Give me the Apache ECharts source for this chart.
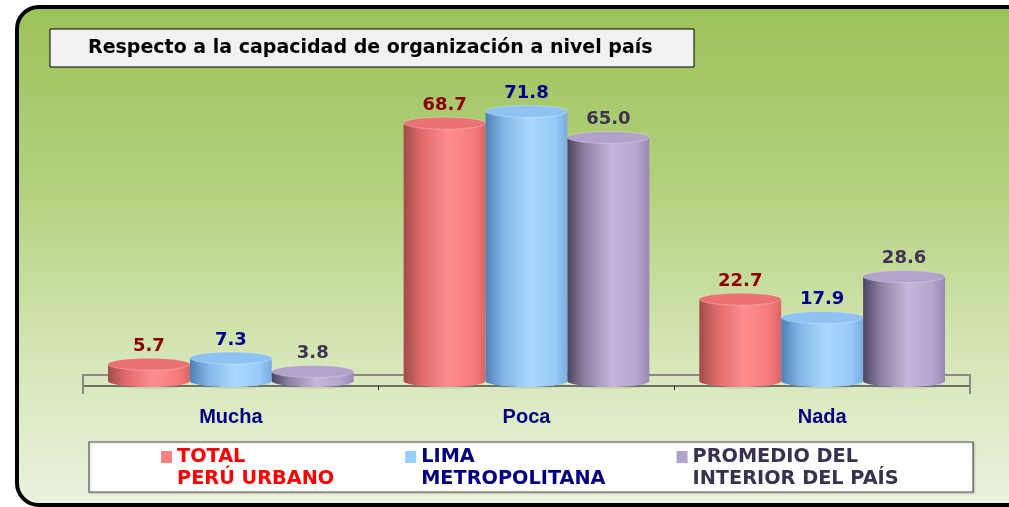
<!DOCTYPE html>
<html>
<head>
<meta charset="utf-8">
<script src="https://cdn.jsdelivr.net/npm/echarts@6/dist/echarts.min.js"></script>
<style>
  html, body { margin: 0; padding: 0; background: #fff; }
  #chart { width: 1009px; height: 507px; }
</style>
</head>
<body>
<div id="chart"></div>
<script>
// data
const categories = ["Mucha", "Poca", "Nada"];
const seriesNames = ["TOTAL PERÚ URBANO", "LIMA METROPOLITANA", "PROMEDIO DEL INTERIOR DEL PAÍS"];
const legendLines = [["TOTAL", "PERÚ URBANO"], ["LIMA", "METROPOLITANA"], ["PROMEDIO DEL", "INTERIOR DEL PAÍS"]];
const totalPeru = [5.7, 68.7, 22.7];
const limaMetro = [7.3, 71.8, 17.9];
const interiorPais = [3.8, 65.0, 28.6];

// look
const GRID = { left: 83, right: 39, top: 80, bottom: 121 };
const BAR_FRAC = 0.277;
const RY = 6;
const WIDE = "'DejaVu Sans', Verdana, sans-serif";
const ARIAL = "'Liberation Sans', Arial, sans-serif";
const palettes = [
  { stops: ["#a24a4a", "#e06c6c", "#ff8d8d", "#f77c7c", "#d86565"], top: "#ea7272", label: "#8b0000", text: "#ff0000", mark: "#ff8080" },
  { stops: ["#4f7fb5", "#83b6e6", "#aad9ff", "#97caf7", "#79ace0"], top: "#8ec2f0", label: "#00008b", text: "#000080", mark: "#99ccff" },
  { stops: ["#4f4460", "#8f82a6", "#c6b6de", "#b5a5cd", "#9a8ab2"], top: "#b3a3cb", label: "#3f3353", text: "#3a3050", mark: "#b0a2cc" }
];

function bodyFill(p) {
  return {
    type: "linear", x: 0, y: 0, x2: 1, y2: 0,
    colorStops: [
      { offset: 0, color: p.stops[0] },
      { offset: 0.22, color: p.stops[1] },
      { offset: 0.55, color: p.stops[2] },
      { offset: 0.85, color: p.stops[3] },
      { offset: 1, color: p.stops[4] }
    ]
  };
}

function renderCylinder(params, api) {
  const p = palettes[params.seriesIndex];
  const idx = api.value(0);
  const val = api.value(1);
  const top = api.coord([idx, val]);
  const base = api.coord([idx, 0]);
  const w = api.size([1, 0])[0] * BAR_FRAC;
  const cx = top[0] + (params.seriesIndex - 1) * w;
  const x = cx - w / 2;
  const yb = base[1] - 5;
  const yt = top[1];
  return {
    type: "group",
    children: [
      { type: "ellipse", shape: { cx: cx + 3, cy: yb + 4, rx: w / 2 - 6, ry: RY - 2 },
        style: { fill: "rgba(120,120,120,0.18)" } },
      { type: "ellipse", shape: { cx: cx, cy: yb, rx: w / 2, ry: RY },
        style: { fill: bodyFill(p) } },
      { type: "rect", shape: { x: x, y: yt, width: w, height: Math.max(yb - yt, 0) },
        style: { fill: bodyFill(p) } },
      { type: "ellipse", shape: { cx: cx, cy: yt, rx: w / 2, ry: RY },
        style: { fill: p.top, stroke: "rgba(255,255,255,0.25)", lineWidth: 1 } },
      { type: "text", x: cx, y: yt - RY - 3,
        style: { text: val.toFixed(1), fill: p.label, align: "center", verticalAlign: "bottom",
                 font: "bold 18px " + WIDE } }
    ]
  };
}

const seriesData = [totalPeru, limaMetro, interiorPais];
const legendRich = { g: { width: 5 }, s: { width: 16 } };
palettes.forEach((p, i) => {
  legendRich["m" + i] = { width: 11, height: 12, backgroundColor: p.mark };
  legendRich["t" + i] = { color: p.text, fontWeight: "bold", fontSize: 19.3, lineHeight: 22, fontFamily: WIDE };
});

const chart = echarts.init(document.getElementById("chart"));
chart.setOption({
  animation: false,
  backgroundColor: "#ffffff",
  title: {
    text: "Respecto a la capacidad de organización a nivel país",
    left: 88, top: 38,
    padding: 0,
    textStyle: { fontSize: 19, fontWeight: "bold", color: "#000", lineHeight: 20, fontFamily: WIDE }
  },
  graphic: [
    { type: "rect", z: -10, shape: { x: 17, y: 7, width: 1040, height: 498, r: 22 },
      style: { stroke: "#000", lineWidth: 4,
        fill: { type: "linear", x: 0, y: 0, x2: 0, y2: 1, colorStops: [
          { offset: 0, color: "#9cc25a" },
          { offset: 0.35, color: "#b3d07c" },
          { offset: 0.7, color: "#d5e6b6" },
          { offset: 1, color: "#ebf3e0" } ] } } },
    { type: "rect", z: -5, shape: { x: 50, y: 29, width: 644, height: 38 },
      style: { fill: "#f2f2f2", stroke: "#000", lineWidth: 1 } },
    { type: "rect", z: -5, shape: { x: 89, y: 442, width: 884, height: 50 },
      style: { fill: "#ffffff", stroke: "#555", lineWidth: 1.2, shadowColor: "rgba(0,0,0,0.2)", shadowOffsetX: 1, shadowOffsetY: 1, shadowBlur: 2 } },
    { type: "polyline", z: 1, shape: { points: [[83, 394], [83, 375], [970, 375], [970, 394]] },
      style: { stroke: "#8a8a8a", lineWidth: 2, fill: null } }
  ],
  legend: {
    left: 151, top: 441,
    orient: "horizontal",
    itemWidth: 0, itemHeight: 0, itemGap: 66,
    selectedMode: false,
    data: seriesNames,
    formatter: (name) => {
      const i = seriesNames.indexOf(name);
      const l = legendLines[i];
      return "{m" + i + "|}{g|}{t" + i + "|" + l[0] + "}\n{s|}{t" + i + "|" + l[1] + "}";
    },
    textStyle: { rich: legendRich, lineHeight: 22 }
  },
  grid: GRID,
  xAxis: {
    type: "category",
    data: categories,
    offset: 8,
    axisLine: { lineStyle: { color: "#4a4a4a", width: 1.5 } },
    axisTick: { show: true, length: 4, lineStyle: { color: "#222" } },
    axisLabel: { color: "#000080", fontSize: 20, fontWeight: "bold", margin: 13, fontFamily: ARIAL }
  },
  yAxis: { type: "value", min: 0, max: 80, show: false, splitLine: { show: false } },
  series: seriesData.map((vals, i) => ({
    name: seriesNames[i],
    type: "custom",
    renderItem: renderCylinder,
    itemStyle: { color: palettes[i].mark },
    encode: { x: 0, y: 1 },
    data: vals.map((v, k) => [k, v]),
    z: 3
  }))
});
</script>
</body>
</html>
